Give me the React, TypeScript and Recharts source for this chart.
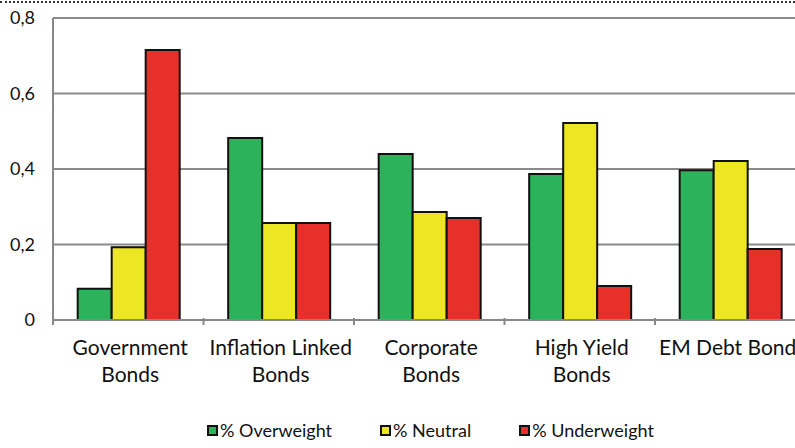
import { BarChart, Bar, XAxis, YAxis, CartesianGrid, Legend } from 'recharts';

// Asset classes (line breaks mark the two-line axis labels)
const categories = [
  'Government\nBonds',
  'Inflation Linked\nBonds',
  'Corporate\nBonds',
  'High Yield\nBonds',
  'EM Debt Bonds',
];

// Share of respondents per positioning
const overweight = [0.083, 0.482, 0.44, 0.387, 0.397];
const neutral = [0.193, 0.257, 0.286, 0.522, 0.421];
const underweight = [0.715, 0.257, 0.27, 0.09, 0.188];

const yTicks = [0, 0.2, 0.4, 0.6, 0.8];

const seriesNames = ['% Overweight', '% Neutral', '% Underweight'];
const seriesColors = ['#2bb25a', '#ece623', '#e8302b'];

const data = categories.map((name, i) => ({
  name,
  overweight: overweight[i],
  neutral: neutral[i],
  underweight: underweight[i],
}));

const CHART_W = 830;
const CHART_H = 448;
const MARGIN = { top: 18, right: 24.5, left: 0, bottom: 7 };
const Y_AXIS_W = 53;
const BAND = (CHART_W - MARGIN.left - MARGIN.right - Y_AXIS_W) / categories.length;

const FONT = 'Lato, "Open Sans", sans-serif';

function CategoryTick(props: any) {
  const { x, y, payload } = props;
  const lines = String(payload.value).split('\n');
  return (
    <g>
      <line x1={x - BAND / 2} x2={x - BAND / 2} y1={y - 10} y2={y - 3} stroke="#888" strokeWidth={2} />
      {lines.map((line: string, i: number) => (
        <text
          key={i}
          x={x + 2}
          y={y + 27 + i * 27}
          textAnchor="middle"
          fontFamily={FONT}
          fontSize={21}
          fill="#111"
        >
          {line}
        </text>
      ))}
    </g>
  );
}

function LegendContent() {
  return (
    <div
      style={{
        display: 'flex',
        height: 22,
        alignItems: 'center',
        paddingLeft: 207,
        fontFamily: FONT,
        fontSize: 18,
        color: '#111',
      }}
    >
      {seriesNames.map((name, i) => (
        <div key={name} style={{ display: 'flex', alignItems: 'center', marginRight: i < 2 ? 48 : 0 }}>
          <span
            style={{
              display: 'inline-block',
              width: 7,
              height: 7,
              background: seriesColors[i],
              border: '2px solid #111',
              marginRight: 2,
            }}
          />
          <span>{name}</span>
        </div>
      ))}
    </div>
  );
}

export default function App() {
  return (
    <div
      style={{
        position: 'absolute',
        top: 0,
        left: 0,
        width: 795,
        height: 448,
        overflow: 'hidden',
        background: '#fff',
      }}
    >
      <div
        style={{
          position: 'absolute',
          top: 1,
          left: 0,
          width: 795,
          borderTop: '2px dotted #333',
        }}
      />
      <BarChart
        width={CHART_W}
        height={CHART_H}
        data={data}
        margin={MARGIN}
        barGap={0}
        barCategoryGap="16.4%"
      >
        <CartesianGrid vertical={false} stroke="#8a8a8a" strokeWidth={2} />
        <XAxis
          dataKey="name"
          height={99}
          interval={0}
          stroke="#888"
          strokeWidth={2}
          tickLine={false}
          tick={<CategoryTick />}
        />
        <YAxis
          width={Y_AXIS_W}
          domain={[0, 0.8]}
          ticks={yTicks}
          stroke="#888"
          strokeWidth={2}
          tickLine={false}
          tickSize={0}
          tickMargin={18}
          tick={{ fill: '#111', fontSize: 18, fontFamily: FONT }}
          tickFormatter={(v: number) => String(v).replace('.', ',')}
        />
        <Legend verticalAlign="bottom" wrapperStyle={{ left: 0, width: CHART_W }} content={<LegendContent />} />
        <Bar dataKey="overweight" name={seriesNames[0]} fill={seriesColors[0]} stroke="#111" strokeWidth={2} isAnimationActive={false} />
        <Bar dataKey="neutral" name={seriesNames[1]} fill={seriesColors[1]} stroke="#111" strokeWidth={2} isAnimationActive={false} />
        <Bar dataKey="underweight" name={seriesNames[2]} fill={seriesColors[2]} stroke="#111" strokeWidth={2} isAnimationActive={false} />
      </BarChart>
    </div>
  );
}
